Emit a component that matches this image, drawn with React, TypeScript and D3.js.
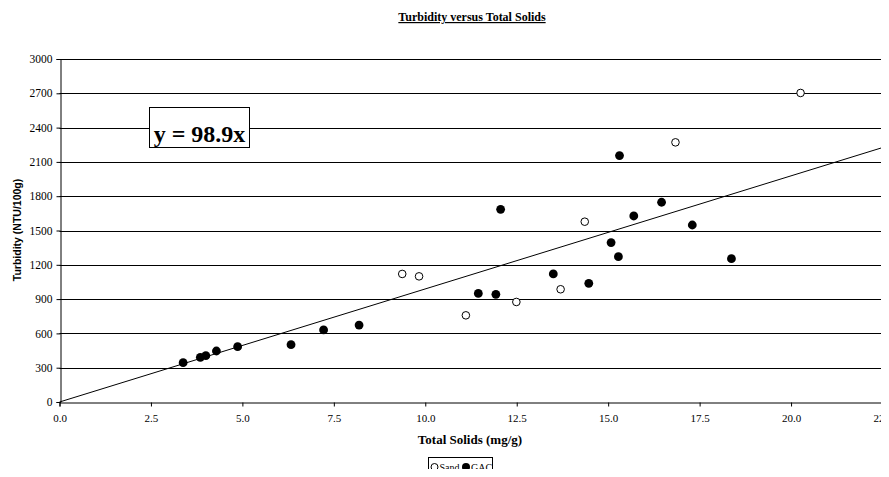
import { useRef, useEffect } from "react";
import * as d3 from "d3";

// Sand samples (open circles)
const sandSolids = [9.37, 9.83, 11.11, 12.49, 13.7, 14.36, 16.84, 20.26];
const sandTurbidity = [1120, 1099, 758, 875, 986, 1577, 2271, 2703];

// GAC samples (filled circles)
const gacSolids = [
	3.38, 3.85, 4.0, 4.29, 4.87, 6.33, 7.22, 8.19, 11.45, 11.93, 12.06, 13.5, 14.47, 15.08, 15.28, 15.31,
	15.7, 16.46, 17.3, 18.37,
];
const gacTurbidity = [
	344, 391, 405, 446, 484, 501, 630, 673, 950, 942, 1685, 1120, 1038, 1394, 1271, 2155, 1627, 1747, 1548,
	1254,
];

const xTicks = [0, 2.5, 5, 7.5, 10, 12.5, 15, 17.5, 20, 22.5];
const yTicks = [0, 300, 600, 900, 1200, 1500, 1800, 2100, 2400, 2700, 3000];
const slope = 98.9;

const width = 889;
const height = 477;

export default function App() {
	const ref = useRef<SVGSVGElement>(null);

	useEffect(() => {
		const margin = { top: 59, right: 6.5, bottom: 75, left: 59.5 };
		const serif = "'Liberation Serif', 'Times New Roman', serif";
		const sans = "'Liberation Sans', Arial, sans-serif";

		const svg = d3.select(ref.current);
		svg.selectAll("*").remove();

		svg.append("rect").attr("width", width).attr("height", height).attr("fill", "#fff");

		// ---- Scales ----
		const x = d3.scaleLinear().domain([0, 22.5]).range([margin.left, width - margin.right]);
		const y = d3.scaleLinear().domain([0, 3000]).range([height - margin.bottom, margin.top]);
		const py = (v: number) => Math.round(y(v)) + 0.5;

		// ---- Gridlines ----
		svg.append("g")
			.selectAll("line")
			.data(yTicks.filter((t) => t > 0))
			.enter()
			.append("line")
			.attr("x1", x(0))
			.attr("x2", x(22.5))
			.attr("y1", (d) => py(d))
			.attr("y2", (d) => py(d))
			.attr("stroke", "#000")
			.attr("stroke-width", 1);

		// right border of plot area
		svg.append("line")
			.attr("x1", Math.round(x(22.5)) + 0.5)
			.attr("x2", Math.round(x(22.5)) + 0.5)
			.attr("y1", py(3000))
			.attr("y2", py(0))
			.attr("stroke", "#808080");

		// ---- Axes ----
		const xAxis = svg
			.append("g")
			.attr("transform", `translate(0,${py(0)})`)
			.call(
				d3
					.axisBottom(x)
					.tickValues(xTicks)
					.tickSize(4)
					.tickPadding(8)
					.tickFormat((d) => d3.format(".1f")(d as number))
			)
			.attr("font-family", serif)
			.attr("font-size", 11);
		xAxis.select(".domain").attr("stroke", "#000");
		xAxis.selectAll("text").attr("fill", "#000");

		const yAxis = svg
			.append("g")
			.attr("transform", `translate(${Math.round(x(0)) + 0.5},0)`)
			.call(
				d3
					.axisLeft(y)
					.tickValues(yTicks)
					.tickSize(4)
					.tickPadding(4)
					.tickFormat((d) => d3.format("d")(d as number))
			)
			.attr("font-family", serif)
			.attr("font-size", 11.5);
		yAxis.select(".domain").attr("stroke", "#000");
		yAxis.selectAll("text").attr("fill", "#000");

		// ---- Trend line ----
		svg.append("line")
			.attr("x1", x(0))
			.attr("y1", y(0))
			.attr("x2", x(22.5))
			.attr("y2", y(slope * 22.5))
			.attr("stroke", "#000")
			.attr("stroke-width", 1);

		// ---- Points ----
		svg.append("g")
			.selectAll("circle")
			.data(gacSolids.map((s, i) => [s, gacTurbidity[i]]))
			.enter()
			.append("circle")
			.attr("cx", (d) => x(d[0]))
			.attr("cy", (d) => y(d[1]))
			.attr("r", 4.4)
			.attr("fill", "#000");

		svg.append("g")
			.selectAll("circle")
			.data(sandSolids.map((s, i) => [s, sandTurbidity[i]]))
			.enter()
			.append("circle")
			.attr("cx", (d) => x(d[0]))
			.attr("cy", (d) => y(d[1]))
			.attr("r", 3.8)
			.attr("fill", "#fff")
			.attr("stroke", "#000")
			.attr("stroke-width", 1);

		// ---- Equation box ----
		svg.append("rect")
			.attr("x", 149.5)
			.attr("y", 107.5)
			.attr("width", 100)
			.attr("height", 40)
			.attr("fill", "#fff")
			.attr("stroke", "#000");
		svg.append("text")
			.attr("x", 199.5)
			.attr("y", 142)
			.attr("text-anchor", "middle")
			.style("font-family", serif)
			.style("font-weight", "bold")
			.style("font-size", "24px")
			.text(`y = ${slope}x`);

		// ---- Titles ----
		svg.append("text")
			.attr("x", 472)
			.attr("y", 21)
			.attr("text-anchor", "middle")
			.style("font-family", serif)
			.style("font-weight", "bold")
			.style("font-size", "12px")
			.style("text-decoration", "underline")
			.text("Turbidity versus Total Solids");

		svg.append("text")
			.attr("x", 470)
			.attr("y", 444)
			.attr("text-anchor", "middle")
			.style("font-family", serif)
			.style("font-weight", "bold")
			.style("font-size", "13px")
			.text("Total Solids (mg/g)");

		svg.append("text")
			.attr("transform", "rotate(-90)")
			.attr("x", -230)
			.attr("y", 21)
			.attr("text-anchor", "middle")
			.style("font-family", sans)
			.style("font-weight", "bold")
			.style("font-size", "10.5px")
			.text("Turbidity (NTU/100g)");

		// ---- Legend ----
		const legend = svg.append("g").style("font-family", serif).style("font-size", "10px");
		legend
			.append("rect")
			.attr("x", 428.5)
			.attr("y", 457.5)
			.attr("width", 64)
			.attr("height", 19)
			.attr("fill", "#fff")
			.attr("stroke", "#000");
		legend
			.append("circle")
			.attr("cx", 434.5)
			.attr("cy", 467)
			.attr("r", 3.5)
			.attr("fill", "#fff")
			.attr("stroke", "#000");
		legend.append("text").attr("x", 439.5).attr("y", 470.5).text("Sand");
		legend
			.append("circle")
			.attr("cx", 466)
			.attr("cy", 467)
			.attr("r", 4)
			.attr("fill", "#000");
		legend.append("text").attr("x", 471).attr("y", 470.5).text("GAC");
	}, []);

	return (
		<div style={{ margin: "-8px" }}>
			<svg ref={ref} width={width} height={height} style={{ display: "block" }} />
		</div>
	);
}
